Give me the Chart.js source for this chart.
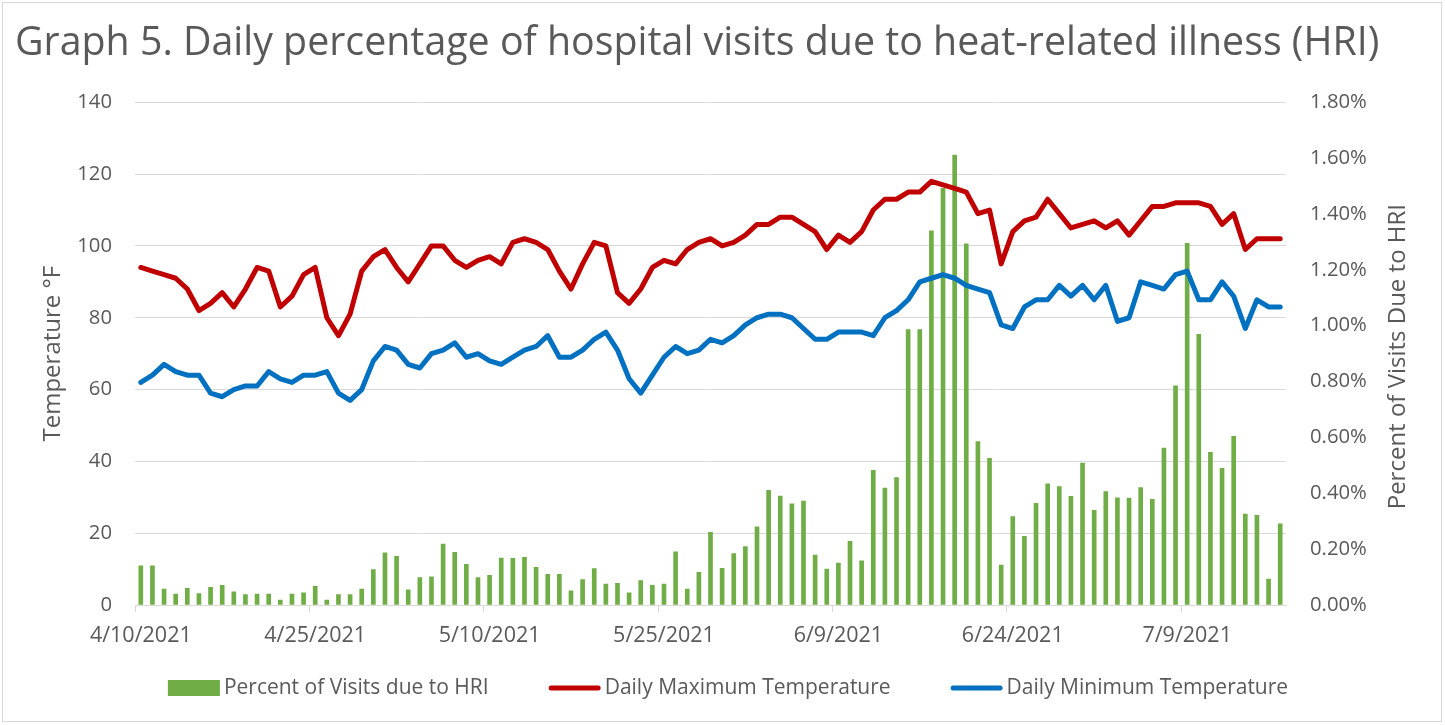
<!DOCTYPE html>
<html>
<head>
<meta charset="utf-8">
<script src="https://cdn.jsdelivr.net/npm/chart.js@4.4.1/dist/chart.umd.min.js"></script>
<style>
html,body{margin:0;padding:0;background:#fff;}
canvas{display:block;}
</style>
</head>
<body>
<canvas id="c" width="1445" height="725"></canvas>
<script>
const chartTitle = 'Graph 5. Daily percentage of hospital visits due to heat-related illness (HRI)';
const leftAxisTitle = 'Temperature °F';
const rightAxisTitle = 'Percent of Visits Due to HRI';
const seriesNames = ['Percent of Visits due to HRI', 'Daily Maximum Temperature', 'Daily Minimum Temperature'];

const dates = [
  '4/10/2021','4/11/2021','4/12/2021','4/13/2021','4/14/2021','4/15/2021','4/16/2021','4/17/2021','4/18/2021','4/19/2021',
  '4/20/2021','4/21/2021','4/22/2021','4/23/2021','4/24/2021','4/25/2021','4/26/2021','4/27/2021','4/28/2021','4/29/2021',
  '4/30/2021','5/1/2021','5/2/2021','5/3/2021','5/4/2021','5/5/2021','5/6/2021','5/7/2021','5/8/2021','5/9/2021',
  '5/10/2021','5/11/2021','5/12/2021','5/13/2021','5/14/2021','5/15/2021','5/16/2021','5/17/2021','5/18/2021','5/19/2021',
  '5/20/2021','5/21/2021','5/22/2021','5/23/2021','5/24/2021','5/25/2021','5/26/2021','5/27/2021','5/28/2021','5/29/2021',
  '5/30/2021','5/31/2021','6/1/2021','6/2/2021','6/3/2021','6/4/2021','6/5/2021','6/6/2021','6/7/2021','6/8/2021',
  '6/9/2021','6/10/2021','6/11/2021','6/12/2021','6/13/2021','6/14/2021','6/15/2021','6/16/2021','6/17/2021','6/18/2021',
  '6/19/2021','6/20/2021','6/21/2021','6/22/2021','6/23/2021','6/24/2021','6/25/2021','6/26/2021','6/27/2021','6/28/2021',
  '6/29/2021','6/30/2021','7/1/2021','7/2/2021','7/3/2021','7/4/2021','7/5/2021','7/6/2021','7/7/2021','7/8/2021',
  '7/9/2021','7/10/2021','7/11/2021','7/12/2021','7/13/2021','7/14/2021','7/15/2021','7/16/2021','7/17/2021'
];

// Percent of visits due to HRI (in %)
const hriPercent = [
  0.140,0.140,0.057,0.039,0.060,0.041,0.063,0.070,0.047,0.037,
  0.039,0.039,0.018,0.039,0.044,0.067,0.018,0.037,0.037,0.057,
  0.127,0.187,0.174,0.054,0.098,0.101,0.218,0.189,0.146,0.098,
  0.106,0.168,0.167,0.171,0.135,0.110,0.110,0.051,0.091,0.130,
  0.075,0.078,0.044,0.087,0.070,0.075,0.190,0.057,0.117,0.260,
  0.131,0.184,0.209,0.280,0.411,0.390,0.362,0.372,0.179,0.129,
  0.150,0.228,0.158,0.482,0.419,0.456,0.986,0.986,1.340,1.492,
  1.611,1.293,0.585,0.525,0.143,0.317,0.246,0.364,0.434,0.424,
  0.389,0.508,0.339,0.406,0.384,0.383,0.420,0.378,0.562,0.785,
  1.295,0.969,0.547,0.489,0.604,0.326,0.321,0.093,0.291
];

const maxTemp = [
  94,93,92,91,88,82,84,87,83,88,
  94,93,83,86,92,94,80,75,81,93,
  97,99,94,90,95,100,100,96,94,96,
  97,95,101,102,101,99,93,88,95,101,
  100,87,84,88,94,96,95,99,101,102,
  100,101,103,106,106,108,108,106,104,99,
  103,101,104,110,113,113,115,115,118,117,
  116,115,109,110,95,104,107,108,113,109,
  105,106,107,105,107,103,107,111,111,112,
  112,112,111,106,109,99,102,102,102
];

const minTemp = [
  62,64,67,65,64,64,59,58,60,61,
  61,65,63,62,64,64,65,59,57,60,
  68,72,71,67,66,70,71,73,69,70,
  68,67,69,71,72,75,69,69,71,74,
  76,71,63,59,64,69,72,70,71,74,
  73,75,78,80,81,81,80,77,74,74,
  76,76,76,75,80,82,85,90,91,92,
  91,89,88,87,78,77,83,85,85,89,
  86,89,85,89,79,80,90,89,88,92,
  93,85,85,90,86,77,85,83,83
];

const tempTicks = {min: 0, max: 140, step: 20};
const pctTicks = {min: 0, max: 1.8, step: 0.2};
const labelEvery = 15;

const TXT = '#595959';
const GRID = '#d9d9d9';
const FONT = '"Open Sans"';

const framePlugin = {
  id: 'frame',
  beforeDraw(chart) {
    const c = chart.ctx;
    c.save();
    c.fillStyle = '#ffffff';
    c.fillRect(0, 0, chart.width, chart.height);
    c.strokeStyle = GRID;
    c.lineWidth = 1;
    c.strokeRect(2.5, 2.5, 1439, 719);
    c.restore();
  }
};

const rightTitlePlugin = {
  id: 'rightTitle',
  afterDraw(chart) {
    const c = chart.ctx;
    const a = chart.chartArea;
    c.save();
    c.translate(1398, (a.top + a.bottom) / 2 + 3);
    c.rotate(-Math.PI / 2);
    c.textAlign = 'center';
    c.textBaseline = 'middle';
    c.fillStyle = TXT;
    c.font = '24px ' + FONT;
    c.fillText(rightAxisTitle, 0, 0);
    c.restore();
  }
};

const legendPlugin = {
  id: 'customLegend',
  afterDraw(chart) {
    const c = chart.ctx;
    const ds = chart.data.datasets;
    c.save();
    c.font = '21px ' + FONT;
    const symW = 52, gapText = 4, gapItem = 60, cy = 688, cx = 728;
    const widths = ds.map(d => symW + gapText + c.measureText(d.label).width);
    const total = widths.reduce((a, b) => a + b, 0) + gapItem * (ds.length - 1);
    let x = cx - total / 2;
    ds.forEach((d, i) => {
      if (d.type === 'line') {
        c.strokeStyle = d.borderColor;
        c.lineWidth = 5;
        c.lineCap = 'round';
        c.beginPath();
        c.moveTo(x + 2.5, cy);
        c.lineTo(x + symW - 2.5, cy);
        c.stroke();
      } else {
        c.fillStyle = d.backgroundColor;
        c.fillRect(x, cy - 8, symW, 16);
      }
      c.fillStyle = TXT;
      c.textAlign = 'left';
      c.textBaseline = 'middle';
      c.fillText(d.label, x + symW + gapText, cy);
      x += widths[i] + gapItem;
    });
    c.restore();
  }
};

function build() {
  const canvas = document.getElementById('c');
  const ctx = canvas.getContext('2d');
  // fit title font size to the reference title width
  ctx.font = '35px ' + FONT;
  const w35 = ctx.measureText(chartTitle).width || 1365;
  let titleSize = Math.max(30, Math.min(40, 35 * 1365 / w35));
  const titleLH = titleSize * 1.2;
  const titlePadTop = 44 - titleLH / 2;
  const titlePadBottom = 102.3 - titlePadTop - titleLH;

  new Chart(ctx, {
    type: 'bar',
    data: {
      labels: dates,
      datasets: [
        {
          type: 'bar',
          label: seriesNames[0],
          data: hriPercent,
          yAxisID: 'y1',
          backgroundColor: '#70AD47',
          borderWidth: 0,
          barThickness: 4,
          order: 2
        },
        {
          type: 'line',
          label: seriesNames[1],
          data: maxTemp,
          yAxisID: 'y',
          borderColor: '#C00000',
          backgroundColor: '#C00000',
          borderWidth: 5,
          pointRadius: 0,
          pointHoverRadius: 0,
          tension: 0,
          borderJoinStyle: 'round',
          borderCapStyle: 'round',
          order: 1
        },
        {
          type: 'line',
          label: seriesNames[2],
          data: minTemp,
          yAxisID: 'y',
          borderColor: '#0070C0',
          backgroundColor: '#0070C0',
          borderWidth: 5,
          pointRadius: 0,
          pointHoverRadius: 0,
          tension: 0,
          borderJoinStyle: 'round',
          borderCapStyle: 'round',
          order: 1
        }
      ]
    },
    options: {
      responsive: false,
      devicePixelRatio: 1,
      animation: false,
      events: [],
      layout: { padding: { left: 15, right: 0, top: 0, bottom: 73 } },
      plugins: {
        tooltip: { enabled: false },
        legend: { display: false },
        title: {
          display: true,
          text: chartTitle,
          align: 'start',
          color: TXT,
          font: { family: FONT, size: titleSize, weight: 'normal', lineHeight: 1.2 },
          padding: { top: titlePadTop, bottom: titlePadBottom }
        }
      },
      scales: {
        x: {
          type: 'category',
          offset: true,
          grid: {
            display: true,
            offset: true,
            drawOnChartArea: false,
            drawTicks: true,
            tickLength: 7,
            color: (c) => (c.index % labelEvery === 0 ? GRID : 'rgba(0,0,0,0)')
          },
          border: { display: true, color: GRID, width: 1 },
          ticks: {
            autoSkip: false,
            maxRotation: 0,
            minRotation: 0,
            padding: 11,
            color: TXT,
            font: { family: FONT, size: 21.5 },
            callback: (v, i) => (i % labelEvery === 0 ? dates[i] : '')
          },
          afterFit: (s) => { s.height = 47; }
        },
        y: {
          position: 'left',
          min: tempTicks.min,
          max: tempTicks.max,
          ticks: {
            stepSize: tempTicks.step,
            padding: 23,
            color: TXT,
            font: { family: FONT, size: 20.3 }
          },
          grid: { color: GRID, lineWidth: 1, drawTicks: false },
          border: { display: false },
          title: {
            display: true,
            text: leftAxisTitle,
            color: TXT,
            font: { family: FONT, size: 24, lineHeight: 1.2 },
            padding: { top: 23.6, bottom: 0 }
          },
          afterFit: (s) => { s.width = 120; }
        },
        y1: {
          position: 'right',
          min: pctTicks.min,
          max: pctTicks.max,
          ticks: {
            stepSize: pctTicks.step,
            padding: 24,
            color: TXT,
            font: { family: FONT, size: 20.3 },
            callback: (v) => Number(v).toFixed(2) + '%'
          },
          grid: { drawOnChartArea: false, drawTicks: false },
          border: { display: false },
          afterFit: (s) => { s.width = 159; }
        }
      }
    },
    plugins: [framePlugin, rightTitlePlugin, legendPlugin]
  });
}

if (document.fonts && document.fonts.load) {
  Promise.all([
    document.fonts.load('20px "Open Sans"'),
    document.fonts.load('35px "Open Sans"')
  ]).then(build, build);
} else {
  build();
}
</script>
</body>
</html>
